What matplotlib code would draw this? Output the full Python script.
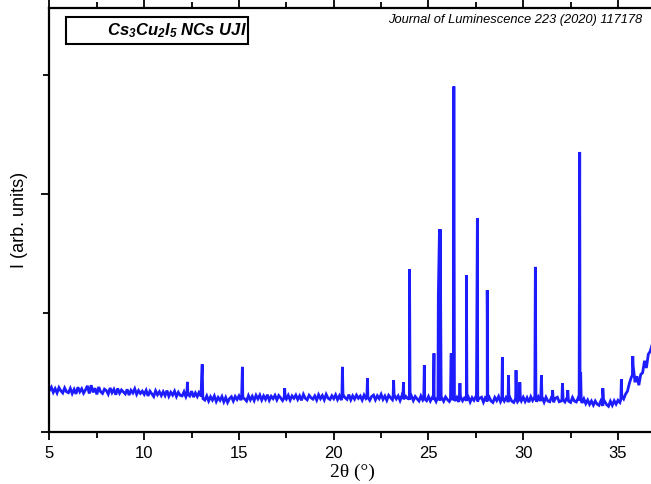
import matplotlib
matplotlib.use('Agg')
import matplotlib.pyplot as plt
from matplotlib.patches import Rectangle
from matplotlib.ticker import MultipleLocator
import numpy as np

# baseline, read every 0.1 deg from 5.0 (arb. units)
base_start = 5.0
base_step = 0.1
baseline = [
    352, 378, 335, 366, 330, 375, 348, 330, 372, 340,
    332, 368, 325, 360, 322, 378, 340, 365, 328, 355,
    390, 325, 395, 335, 370, 318, 380, 340, 326, 362,
    350, 320, 372, 332, 360, 315, 368, 328, 355, 338,
    322, 360, 312, 352, 330, 365, 318, 350, 326, 345,
    318, 352, 305, 345, 322, 300, 348, 315, 340, 308,
    340, 308, 350, 302, 335, 312, 345, 300, 335, 310,
    305, 340, 298, 335, 305, 345, 295, 330, 300, 338,
    300, 282, 270, 305, 262, 298, 270, 305, 258, 292,
    268, 300, 255, 292, 250, 282, 298, 262, 300, 275,
    305, 270, 312, 280, 262, 308, 272, 302, 266, 310,
    280, 312, 270, 305, 276, 315, 268, 302, 282, 310,
    272, 308, 288, 266, 318, 278, 310, 270, 305, 285,
    312, 275, 305, 268, 318, 285, 272, 310, 290, 278,
    305, 270, 315, 282, 308, 272, 318, 286, 275, 306,
    282, 314, 274, 306, 270, 310, 290, 276, 316, 272,
    306, 278, 312, 285, 304, 270, 312, 282, 305, 268,
    300, 312, 272, 306, 282, 318, 276, 304, 268, 310,
    290, 272, 310, 280, 305, 266, 308, 276, 302, 284,
    272, 305, 266, 300, 280, 262, 304, 270, 296, 265,
    300, 262, 292, 275, 258, 298, 266, 290, 260, 296,
    274, 258, 298, 270, 262, 292, 255, 296, 264, 288,
    262, 296, 254, 290, 268, 300, 258, 285, 294, 252,
    290, 258, 296, 262, 250, 292, 266, 300, 256, 286,
    262, 294, 252, 290, 260, 250, 292, 256, 288, 262,
    294, 258, 290, 252, 298, 266, 292, 256, 296, 262,
    290, 252, 294, 262, 256, 298, 252, 286, 294, 256,
    262, 296, 254, 288, 260, 250, 292, 262, 254, 288,
    262, 246, 280, 240, 270, 234, 262, 228, 262, 236,
    226, 264, 220, 258, 232, 218, 260, 226, 264, 236,
    268, 250, 310, 280, 320, 345, 410, 460, 560, 420,
    470, 395, 485, 500, 600, 540, 655, 680, 735,
]

# reflections: foot, top, foot
peak_2theta = [
    12.25, 12.28, 12.31,
    12.98, 13.03, 13.06, 13.09,
    15.14, 15.18, 15.21,
    17.38, 17.41, 17.44,
    20.43, 20.46, 20.49,
    21.75, 21.78, 21.81,
    23.13, 23.16, 23.19,
    23.65, 23.68, 23.71,
    23.97, 24.00, 24.03,
    24.75, 24.78, 24.81,
    25.26, 25.29, 25.32,
    25.47, 25.52, 25.58, 25.62, 25.67,
    26.17, 26.20, 26.23,
    26.31, 26.34, 26.37,
    26.63, 26.66, 26.69,
    26.97, 27.00, 27.03,
    27.53, 27.58, 27.62,
    28.06, 28.10, 28.13,
    28.87, 28.90, 28.93,
    29.19, 29.22, 29.25,
    29.59, 29.62, 29.65,
    29.79, 29.82, 29.85,
    30.61, 30.64, 30.67,
    30.93, 30.96, 30.99,
    31.52, 31.55, 31.58,
    32.04, 32.07, 32.10,
    32.32, 32.35, 32.38,
    32.95, 32.98, 33.01, 33.03, 33.06,
    34.17, 34.20, 34.23,
    35.15, 35.18, 35.21,
    35.76, 35.78, 35.80,
]
peak_int = [
    318, 423, 320,
    330, 470, 571, 300,
    290, 549, 290,
    290, 370, 292,
    290, 549, 300,
    290, 454, 292,
    290, 437, 288,
    288, 420, 286,
    285, 1369, 290,
    282, 563, 280,
    280, 663, 282,
    285, 1150, 1705, 1705, 300,
    280, 663, 300,
    300, 2906, 290,
    285, 412, 282,
    280, 1319, 282,
    285, 1800, 290,
    280, 1193, 285,
    280, 632, 284,
    278, 479, 280,
    280, 521, 278,
    276, 420, 280,
    280, 1389, 290,
    285, 479, 280,
    275, 353, 278,
    275, 412, 272,
    270, 353, 276,
    272, 2355, 300, 504, 270,
    245, 370, 248,
    275, 445, 300,
    480, 640, 560,
]

base_x = base_start + base_step * np.arange(len(baseline))
x = np.concatenate([base_x, peak_2theta])
y = np.concatenate([baseline, peak_int])
order = np.argsort(x, kind='stable')
x, y = x[order], y[order]

plt.rcParams['font.family'] = ['Liberation Sans', 'DejaVu Sans']
plt.rcParams['mathtext.fontset'] = 'custom'
plt.rcParams['mathtext.rm'] = 'Liberation Sans:bold:italic'
plt.rcParams['mathtext.it'] = 'Liberation Sans:bold:italic'
plt.rcParams['mathtext.bf'] = 'Liberation Sans:bold:italic'

fig = plt.figure(figsize=(6.51, 4.84), dpi=100)
ax = fig.add_axes([0.076, 0.107, 0.9315, 0.876])

ax.plot(x, y, color='#1c1cff', lw=2.0, solid_joinstyle='miter')

ax.set_xlim(5, 37)
ax.set_ylim(0, 3563)

ax.xaxis.set_major_locator(MultipleLocator(5))
ax.xaxis.set_minor_locator(MultipleLocator(2.5))
ax.yaxis.set_major_locator(MultipleLocator(2000))
ax.yaxis.set_minor_locator(MultipleLocator(1000))
ax.set_yticklabels([])
ax.tick_params(axis='both', which='major', direction='out', length=6, width=1.3, labelsize=12)
ax.tick_params(axis='both', which='minor', direction='out', length=4, width=1.3)
ax.tick_params(axis='x', top=True, which='both')
ax.tick_params(axis='x', which='both', labeltop=False)
ax.tick_params(axis='x', which='major', pad=4)
for side in ['top', 'bottom', 'left', 'right']:
    ax.spines[side].set_linewidth(1.6)

ax.set_xlabel('2θ (°)', fontsize=14, family=['Liberation Serif', 'DejaVu Serif'], labelpad=2)
ax.set_ylabel('I (arb. units)', fontsize=13)
ax.yaxis.set_label_coords(-0.035, 0.5)

ax.add_patch(Rectangle((0.0272, 0.915), 0.300, 0.0637, transform=ax.transAxes,
                       fill=False, edgecolor='black', lw=1.5, clip_on=False))
ax.text(0.3257, 0.946, 'Cs$_3$Cu$_2$I$_5$ NCs UJI', transform=ax.transAxes,
        ha='right', va='center', fontsize=12, fontweight='bold', style='italic')
ax.text(0.977, 0.972, 'Journal of Luminescence 223 (2020) 117178', transform=ax.transAxes,
        ha='right', va='center', fontsize=9.3, style='italic')

fig.savefig('out.png', dpi=100)
